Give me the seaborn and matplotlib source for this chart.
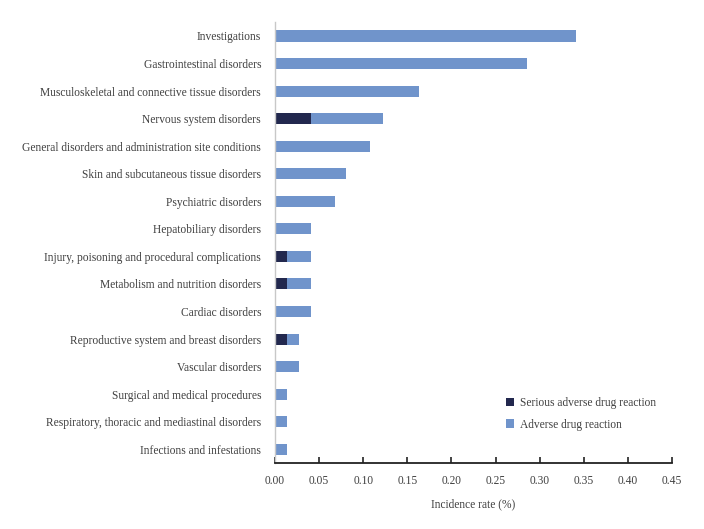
import matplotlib
matplotlib.use('Agg')
import matplotlib.pyplot as plt
import seaborn as sns
import pandas as pd

categories = [
    'Investigations',
    'Gastrointestinal disorders',
    'Musculoskeletal and connective tissue disorders',
    'Nervous system disorders',
    'General disorders and administration site conditions',
    'Skin and subcutaneous tissue disorders',
    'Psychiatric disorders',
    'Hepatobiliary disorders',
    'Injury, poisoning and procedural complications',
    'Metabolism and nutrition disorders',
    'Cardiac disorders',
    'Reproductive system and breast disorders',
    'Vascular disorders',
    'Surgical and medical procedures',
    'Respiratory, thoracic and mediastinal disorders',
    'Infections and infestations',
]
adr = [0.341, 0.286, 0.163, 0.122, 0.108, 0.081, 0.068, 0.041,
       0.041, 0.041, 0.041, 0.027, 0.027, 0.0135, 0.0135, 0.0135]
serious = [0, 0, 0, 0.041, 0, 0, 0, 0,
           0.0135, 0.0135, 0, 0.0135, 0, 0, 0, 0]

df = pd.DataFrame({'category': categories, 'adr': adr, 'serious': serious})

sns.set_style('white')
plt.rcParams['font.family'] = ['Liberation Serif', 'DejaVu Serif']

fig = plt.figure(figsize=(7.04, 5.29), dpi=100)
ax = fig.add_axes([0.3906, 0.1248, 0.5639, 0.8332])

adr_color = '#7094cb'
ser_color = '#22284e'
sns.barplot(data=df, y='category', x='adr', color=adr_color, width=0.4,
            orient='h', ax=ax, label='Adverse drug reaction', saturation=1,
            linewidth=0)
sns.barplot(data=df, y='category', x='serious', color=ser_color, width=0.4,
            orient='h', ax=ax, label='Serious adverse drug reaction', saturation=1,
            linewidth=0)

ax.set_xlim(0, 0.45)
ax.set_ylim(15.5, -0.5)
ax.set_xticks([i * 0.05 for i in range(10)])
ax.set_xticklabels(['%.2f' % (i * 0.05) for i in range(10)])
ax.set_ylabel('')
ax.set_xlabel('Incidence rate (%)', fontsize=8.3, color='#404040', labelpad=8)

ax.tick_params(axis='x', direction='in', length=4, width=1.2, color='#222222',
               labelsize=8.3, labelcolor='#404040', pad=9, bottom=True)
ax.tick_params(axis='y', length=0, labelsize=8.3, labelcolor='#404040', pad=10)

for s in ['top', 'right']:
    ax.spines[s].set_visible(False)
ax.spines['bottom'].set_color('#222222')
ax.spines['bottom'].set_linewidth(1.3)
ax.spines['left'].set_color('#c8c8c8')
ax.spines['left'].set_linewidth(1.0)

handles, labels = ax.get_legend_handles_labels()
leg = ax.legend(handles[::-1], labels[::-1], loc='lower left',
                bbox_to_anchor=(0.556, 0.05), frameon=False, fontsize=8.3,
                handlelength=0.7, handleheight=0.7, labelspacing=0.85,
                handletextpad=0.5)
for t in leg.get_texts():
    t.set_color('#404040')

fig.savefig('out.png', dpi=100)
